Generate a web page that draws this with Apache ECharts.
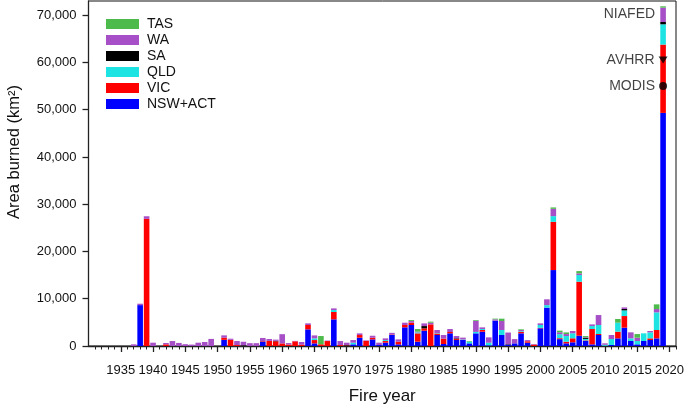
<!DOCTYPE html>
<html>
<head>
<meta charset="utf-8">
<script src="https://cdn.jsdelivr.net/npm/echarts@6/dist/echarts.min.js"></script>
<style>
html,body{margin:0;padding:0;background:#fff;}
#chart{width:685px;height:408px;}
</style>
</head>
<body>
<div id="chart"></div>
<script>
// Fire years (categories); the axis runs on to 2021
const years = [1930,1931,1932,1933,1934,1935,1936,1937,1938,1939,
1940,1941,1942,1943,1944,1945,1946,1947,1948,1949,
1950,1951,1952,1953,1954,1955,1956,1957,1958,1959,
1960,1961,1962,1963,1964,1965,1966,1967,1968,1969,
1970,1971,1972,1973,1974,1975,1976,1977,1978,1979,
1980,1981,1982,1983,1984,1985,1986,1987,1988,1989,
1990,1991,1992,1993,1994,1995,1996,1997,1998,1999,
2000,2001,2002,2003,2004,2005,2006,2007,2008,2009,
2010,2011,2012,2013,2014,2015,2016,2017,2018,2019];
const axisEndYears = [2020, 2021];

// Area burned (km2) per state, one value per fire year
const nswAct = [0,0,0,0,0,0,0,0,8650,0,
0,0,0,0,0,0,0,0,0,0,
0,1300,0,0,0,0,0,950,0,0,
0,0,0,0,3520,560,0,0,5640,0,
0,350,1760,0,1400,200,700,2330,350,3950,
4440,920,3240,0,2330,420,2680,1270,1270,560,
2680,3030,150,5360,2330,300,560,2680,700,0,
3740,8120,16070,1450,560,780,2180,1100,350,2330,
60,210,1620,3880,1060,350,1060,1270,1620,49320];

const vic = [0,0,0,0,0,0,0,0,0,26900,
0,0,350,0,0,0,0,0,0,0,
0,450,1300,200,0,0,0,100,1080,1000,
550,320,1000,300,920,700,360,1050,1550,200,
100,0,560,1100,350,0,350,100,560,490,
490,1760,490,4580,300,1130,280,200,0,0,
0,350,0,0,0,0,0,300,300,300,
100,0,10210,200,350,850,11420,100,3240,210,
0,0,1410,2460,0,0,0,350,1760,14460];

const qld = [0,0,0,0,0,0,0,0,0,0,
0,0,0,0,0,0,0,0,0,0,
0,0,0,0,0,0,0,0,0,0,
0,0,0,0,0,350,0,0,420,0,
0,350,0,0,0,0,210,0,0,0,
0,200,0,0,100,0,0,0,100,350,
300,210,550,0,1060,0,0,150,0,0,
600,530,1200,850,1200,1060,1410,300,630,1900,
200,1270,1900,1200,560,700,1620,1270,3740,4290];

const sa = [0,0,0,0,0,0,0,0,0,0,
0,0,0,0,0,0,0,0,0,0,
0,0,0,0,150,0,0,0,0,100,
0,0,0,0,0,0,0,0,0,0,
100,0,0,0,0,0,0,0,0,0,
0,0,490,0,0,0,0,150,0,0,
0,0,0,0,0,100,0,0,0,0,
0,0,0,0,0,0,0,250,0,0,
0,0,0,300,0,0,0,0,0,490];

const wa = [0,0,0,0,0,0,0,350,300,550,
700,0,280,1050,650,380,300,700,850,1500,
0,500,250,850,750,600,600,650,400,250,
1950,300,80,550,350,630,0,100,350,850,
500,560,350,100,420,500,350,350,490,490,
350,150,560,350,650,780,630,490,400,0,
2350,350,1130,280,1900,2450,900,250,250,120,
350,1230,1540,400,420,490,350,100,350,2110,
300,850,0,330,1270,700,0,280,700,3040];

const tas = [0,0,0,0,0,0,0,0,0,0,
0,0,0,0,0,0,0,0,0,0,
0,0,0,0,0,0,0,0,0,0,
0,0,0,0,0,0,1750,0,0,0,
0,0,0,0,0,0,0,0,0,0,
200,560,0,220,0,0,0,0,0,140,
150,0,0,150,490,0,0,150,0,0,
0,0,300,350,350,0,490,250,0,0,
0,0,780,0,0,780,0,0,990,280];

// Tick values
const xMajorTicks = [1935,1940,1945,1950,1955,1960,1965,1970,1975,1980,1985,1990,1995,2000,2005,2010,2015,2020];
const xMinorTicks = [1931,1932,1933,1934,1935,1936,1937,1938,1939,1940,1941,1942,1943,1944,1945,1946,1947,1948,1949,1950,
1951,1952,1953,1954,1955,1956,1957,1958,1959,1960,1961,1962,1963,1964,1965,1966,1967,1968,1969,1970,
1971,1972,1973,1974,1975,1976,1977,1978,1979,1980,1981,1982,1983,1984,1985,1986,1987,1988,1989,1990,
1991,1992,1993,1994,1995,1996,1997,1998,1999,2000,2001,2002,2003,2004,2005,2006,2007,2008,2009,2010,
2011,2012,2013,2014,2015,2016,2017,2018,2019,2020,2021];
const yTicks = [0,10000,20000,30000,40000,50000,60000,70000];

// 2019 estimate markers
const markerNames = ['NIAFED','AVHRR','MODIS'];
const markerYears = ['2019','2019','2019'];
const markerValues = [70200,60500,55000];

const seriesNames = ['NSW+ACT','VIC','QLD','SA','WA','TAS'];
const seriesValues = [nswAct, vic, qld, sa, wa, tas];
const seriesColors = ['#0000ff','#ff0000','#1ee3e3','#000000','#a64fc6','#4cbb4c'];

const FONT = 'Liberation Sans, Arial, sans-serif';

const chart = echarts.init(document.getElementById('chart'), null, {renderer:'canvas'});

const categoryYears = years.concat(axisEndYears).map(String);

const barSeries = seriesNames.map((name, si) => ({
  name: name,
  type: 'bar',
  stack: 'total',
  xAxisIndex: 0,
  yAxisIndex: 0,
  barWidth: 5.6,
  itemStyle: {color: seriesColors[si]},
  emphasis: {disabled: true},
  data: seriesValues[si]
}));

const markerSymbols = ['circle','triangle','circle'];
const markerSizes = [0,[9,7],8];
const markerRot = [0,180,0];

const markerSeries = markerNames.map((nm, k) => ({
  name: nm,
  type: 'scatter',
  xAxisIndex: 0,
  yAxisIndex: 0,
  z: 10,
  symbol: markerSymbols[k],
  symbolSize: markerSizes[k],
  symbolRotate: markerRot[k],
  itemStyle: {color: '#000'},
  label: {
    show: true,
    position: 'left',
    distance: k === 0 ? 8 : 4,
    formatter: nm,
    color: '#111',
    fontSize: 14,
    fontFamily: FONT
  },
  emphasis: {disabled: true},
  data: [[markerYears[k], markerValues[k]]]
}));

const option = {
  animation: false,
  backgroundColor: '#fff',
  grid: {left: 88.5, right: 9, top: 1, bottom: 62, show: true, borderColor: '#111', borderWidth: 1,
    backgroundColor: 'transparent', containLabel: false, outerBoundsMode: 'none'},
  legend: {
    data: ['TAS','WA','SA','QLD','VIC','NSW+ACT'],
    orient: 'vertical',
    left: 106,
    top: 16,
    itemWidth: 33,
    itemHeight: 10,
    itemGap: 0,
    icon: 'rect',
    padding: 0,
    textStyle: {fontSize: 14, fontFamily: FONT, color: '#111', lineHeight: 16, padding: [0,0,0,3]}
  },
  xAxis: [{
    type: 'category',
    data: categoryYears,
    boundaryGap: false,
    axisLine: {show: false},
    axisTick: {show: false},
    axisLabel: {show: false},
    splitLine: {show: false}
  },{
    type: 'value',
    min: 1930, max: 2021,
    position: 'bottom',
    axisLine: {show: true, onZero: false, lineStyle: {color: '#222', width: 1.3}},
    axisTick: {show: true, length: 6, customValues: xMajorTicks, lineStyle: {color: '#222', width: 1.3}},
    axisLabel: {show: true, customValues: xMajorTicks, margin: 18, fontSize: 13, fontFamily: FONT, color: '#111', formatter: v => String(v)},
    splitLine: {show: false},
    name: 'Fire year',
    nameLocation: 'middle',
    nameGap: 42,
    nameTextStyle: {fontSize: 17, fontFamily: FONT, color: '#111'}
  },{
    type: 'value',
    min: 1930, max: 2021,
    position: 'bottom',
    axisLine: {show: false},
    axisTick: {show: true, length: 3.5, customValues: xMinorTicks, lineStyle: {color: '#222', width: 1}},
    axisLabel: {show: false},
    splitLine: {show: false}
  }],
  yAxis: [{
    type: 'value',
    min: 0, max: 73000,
    axisLine: {show: true, onZero: false, lineStyle: {color: '#222', width: 1.3}},
    axisTick: {show: true, length: 6, customValues: yTicks, lineStyle: {color: '#222', width: 1.3}},
    axisLabel: {show: true, customValues: yTicks, margin: 12, fontSize: 13, fontFamily: FONT, color: '#111',
      formatter: v => Number(v).toLocaleString('en-US')},
    splitLine: {show: false}
  }],
  graphic: [{
    type: 'text',
    x: 14, y: 152,
    rotation: Math.PI / 2,
    style: {text: 'Area burned (km²)', font: '16.5px ' + FONT, fill: '#111', textAlign: 'center', textVerticalAlign: 'middle'}
  }],
  series: barSeries.concat(markerSeries)
};
chart.setOption(option);
</script>
</body>
</html>
